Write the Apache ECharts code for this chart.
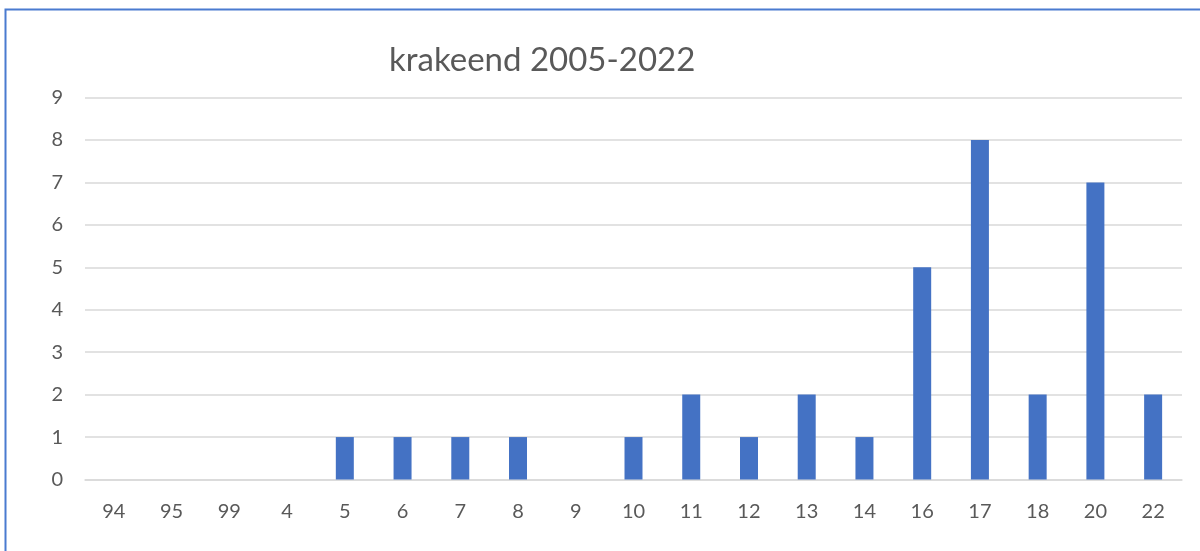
<!DOCTYPE html>
<html>
<head>
<meta charset="utf-8">
<script src="https://cdn.jsdelivr.net/npm/echarts@6/dist/echarts.min.js"></script>
<style>
  html, body { margin: 0; padding: 0; background: #fff; }
  #main { width: 1200px; height: 551px; }
</style>
</head>
<body>
<div id="main"></div>
<script>
var years = ['94', '95', '99', '4', '5', '6', '7', '8', '9', '10', '11', '12', '13', '14', '16', '17', '18', '20', '22'];
var counts = [0, 0, 0, 0, 1, 1, 1, 1, 0, 1, 2, 1, 2, 1, 5, 8, 2, 7, 2];
var yTicks = [0, 1, 2, 3, 4, 5, 6, 7, 8, 9];

var chartDom = document.getElementById('main');
var myChart = echarts.init(chartDom);
var option;

var font = 'Lato';

option = {
  animation: false,
  title: {
    text: 'krakeend 2005-2022',
    left: 384,
    top: 39,
    textStyle: {
      fontFamily: font,
      fontSize: 33,
      fontWeight: 'normal',
      color: '#595959'
    }
  },
  graphic: [
    {
      type: 'rect',
      shape: { x: 5.5, y: 9.5, width: 1300, height: 700 },
      style: { fill: 'none', stroke: '#4a7bd0', lineWidth: 2 }
    }
  ],
  grid: {
    left: 85,
    right: 18,
    top: 97.5,
    bottom: 71.5
  },
  xAxis: {
    type: 'category',
    data: years,
    axisLine: { show: true, lineStyle: { color: '#d9d9d9', width: 1.5 } },
    axisTick: { show: false },
    axisLabel: {
      margin: 22,
      fontFamily: font,
      fontSize: 20,
      color: '#595959'
    }
  },
  yAxis: {
    type: 'value',
    min: yTicks[0],
    max: yTicks[yTicks.length - 1],
    interval: 1,
    axisLine: { show: false },
    axisTick: { show: false },
    splitLine: { lineStyle: { color: '#d9d9d9', width: 1.5 } },
    axisLabel: {
      margin: 22,
      fontFamily: font,
      fontSize: 20,
      color: '#595959'
    }
  },
  series: [
    {
      name: 'krakeend',
      type: 'bar',
      data: counts,
      barWidth: 18,
      itemStyle: { color: '#4472c4' }
    }
  ]
};

option && myChart.setOption(option);
</script>
</body>
</html>
